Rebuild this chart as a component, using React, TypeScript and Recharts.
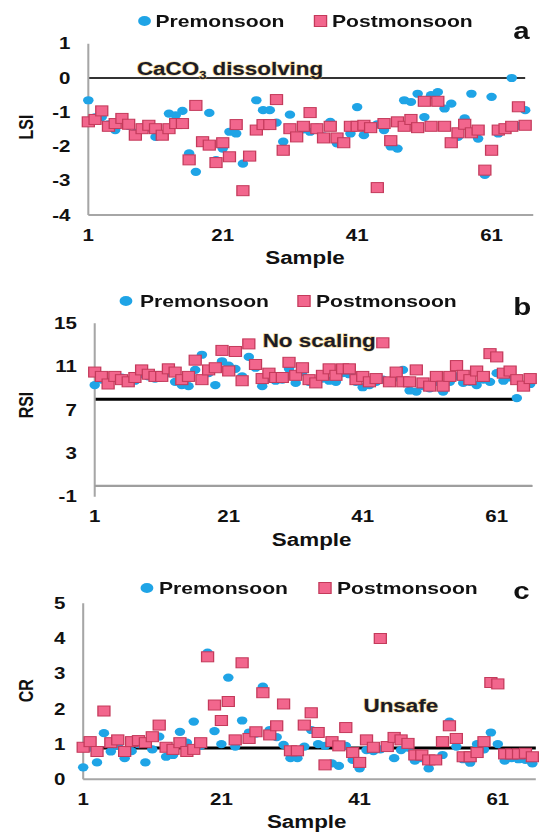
import React from 'react';
import { ScatterChart, Scatter, XAxis, YAxis, ReferenceLine, Legend } from 'recharts';

// x axis: sample number 1..66
const sampleTicks = [1, 21, 41, 61];

// (a) Langelier saturation index
const lsiTicks = [-4, -3, -2, -1, 0, 1];
const lsiPre = [
  -0.65, -1.15, -1.14, -1.35, -1.52, -1.2, -1.4, -1.6, -1.45, -1.45,
  -1.72, -1.65, -1.04, -1.09, -0.96, -2.2, -2.74, -1.85, -1.02, -2.4,
  -2.06, -1.57, -1.62, -2.5, -2.25, -0.65, -0.94, -0.94, -1.3, -1.86,
  -1.07, -1.7, -1.5, -1.57, -1.45, -1.7, -1.28, -1.91, -1.85, -1.62,
  -0.85, -1.67, -1.45, -1.35, -1.52, -2.0, -2.06, -0.65, -0.7, -0.46,
  -1.14, -0.5, -0.41, -0.89, -0.75, -1.72, -1.18, -0.46, -1.77, -2.83,
  -0.55, -1.62, -1.5, 0.0, -1.4, -0.94,
];
const lsiPost = [
  -1.28, -1.21, -0.96, -1.41, -1.33, -1.18, -1.35, -1.67, -1.48, -1.38,
  -1.48, -1.67, -1.48, -1.33, -1.33, -2.39, -0.8, -1.86, -1.96, -2.47,
  -1.89, -2.3, -1.36, -3.29, -2.28, -1.52, -1.36, -1.36, -0.63, -2.11,
  -1.48, -1.72, -1.41, -1.01, -1.48, -1.75, -1.41, -1.75, -1.89, -1.41,
  -1.41, -1.38, -1.45, -3.2, -1.33, -1.83, -1.28, -1.41, -1.21, -1.45,
  -0.68, -1.41, -0.68, -1.41, -1.89, -1.6, -1.35, -1.6, -1.52, -2.69,
  -2.11, -1.52, -1.48, -1.41, -0.84, -1.38,
];

// (b) Ryznar stability index
const rsiTicks = [-1, 3, 7, 11, 15];
const rsiPre = [
  9.3, 9.8, 9.6, 10.0, 10.0, 9.5, 9.7, 10.3, 10.1, 9.9,
  10.0, 10.4, 9.6, 9.3, 9.2, 10.7, 12.1, 10.4, 9.3, 11.5,
  11.1, 10.8, 10.1, 11.9, 10.9, 9.2, 9.9, 9.7, 9.8, 10.8,
  9.5, 10.5, 9.6, 9.4, 9.9, 9.7, 9.6, 10.4, 10.3, 9.6,
  9.1, 9.3, 9.6, 9.8, 9.5, 10.0, 10.7, 8.8, 8.7, 9.2,
  9.0, 9.6, 8.7, 9.6, 10.1, 9.5, 9.6, 9.3, 9.8, 9.6,
  10.4, 9.7, 10.0, 8.1, 9.3, 9.4,
];
const rsiPost = [
  10.5, 10.1, 9.4, 10.1, 9.8, 9.6, 10.0, 10.7, 10.3, 10.1,
  10.1, 10.8, 10.5, 9.8, 10.1, 11.6, 9.8, 10.7, 10.9, 12.5,
  10.6, 12.4, 9.7, 13.1, 11.2, 9.9, 10.4, 10.0, 10.0, 11.4,
  10.2, 10.9, 9.8, 9.5, 10.2, 10.8, 10.2, 10.8, 10.8, 9.8,
  10.1, 9.6, 9.9, 13.2, 9.6, 10.5, 9.6, 9.6, 10.7, 9.5,
  9.2, 10.1, 9.2, 10.1, 11.1, 10.2, 9.8, 10.6, 10.1, 12.2,
  11.9, 10.4, 10.6, 9.8, 9.2, 9.9,
];

// (c) corrosivity ratio
const crTicks = [0, 1, 2, 3, 4, 5];
const crPre = [
  0.34, 0.9, 0.48, 1.31, 0.79, 0.95, 0.6, 0.8, 1.0, 0.48,
  0.85, 1.21, 0.64, 0.69, 1.35, 1.04, 1.64, 0.95, 3.6, 1.37,
  1.0, 2.89, 0.93, 1.67, 1.33, 1.3, 2.63, 1.4, 1.2, 0.98,
  0.6, 0.6, 0.93, 1.4, 1.0, 0.95, 0.45, 0.38, 0.95, 0.55,
  0.31, 0.83, 0.8, 0.85, 0.93, 0.6, 0.83, 0.9, 0.53, 0.6,
  0.31, 0.53, 0.69, 1.64, 0.93, 0.57, 0.47, 1.0, 0.85, 1.33,
  1.0, 0.53, 0.6, 0.57, 0.55, 0.45,
];
const crPost = [
  0.91, 1.07, 0.79, 1.94, 1.04, 1.12, 0.79, 1.07, 1.1, 1.04,
  1.21, 1.54, 0.91, 0.85, 1.04, 0.79, 0.85, 1.04, 3.48, 2.11,
  1.67, 2.21, 1.12, 3.31, 1.16, 1.35, 2.46, 1.26, 1.52, 2.14,
  0.81, 0.81, 1.54, 1.89, 1.33, 0.41, 1.07, 0.95, 1.47, 0.76,
  0.48, 1.12, 0.91, 4.0, 0.93, 1.19, 1.12, 1.02, 0.69, 0.69,
  0.55, 0.55, 1.07, 1.52, 1.16, 0.64, 0.64, 0.76, 1.07, 2.75,
  2.71, 0.72, 0.72, 0.72, 0.74, 0.64,
];

const FONT = '"Liberation Sans", Arial, Helvetica, sans-serif';
const BLUE = '#1fa4e6';
const PINK = '#f2668d';
const PINK_EDGE = '#c43a5b';
const AXIS = '#a6a6a6';
// the original figure is stretched sideways; draw narrow, then scale in x
const STRETCH = 1.28;
const W = 424;

const bold = { fontFamily: FONT, fontWeight: 700, fill: '#111' };

const toPoints = (vals: number[]) => vals.map((y, i) => ({ x: i + 1, y }));

const Dot = (p: any) => <circle cx={p.cx} cy={p.cy} r={4.1} fill={BLUE} />;
const Box = (p: any) => (
  <rect x={p.cx - 4.7} y={p.cy - 5} width={9.4} height={10} fill={PINK} stroke={PINK_EDGE} strokeWidth={1} />
);

const XTick = (p: any) => (
  <text x={p.x} y={p.y + 20} textAnchor="middle" dominantBaseline="central" fontSize={16} style={bold}>
    {p.payload.value}
  </text>
);
const YTick = (p: any) => (
  <text x={p.x} y={p.y} textAnchor="end" dominantBaseline="central" fontSize={16} style={bold}>
    {p.payload.value}
  </text>
);

const Note = ({ x, y, children }: any) => (
  <text
    x={x}
    y={y}
    fontSize={17.5}
    style={{ fontFamily: FONT, fontWeight: 700, fill: '#1b1b28', stroke: '#e2b955', strokeWidth: 1.1, strokeOpacity: 0.75, paintOrder: 'stroke' }}
  >
    {children}
  </text>
);

interface LegendPos {
  y: number;
  dotX: number;
  preX: number;
  boxX: number;
  postX: number;
  letter: string;
  letterY: number;
}

function LegendRow({ y, dotX, preX, boxX, postX, letter, letterY }: LegendPos) {
  return (
    <svg width={W} height={60} style={{ display: 'block', overflow: 'visible' }}>
      <circle cx={dotX} cy={y} r={5} fill={BLUE} />
      <text x={preX} y={y} dominantBaseline="central" fontSize={16.5} style={bold}>Premonsoon</text>
      <rect x={boxX - 4.75} y={y - 5.5} width={9.5} height={11} fill={PINK} stroke={PINK_EDGE} strokeWidth={1} />
      <text x={postX} y={y} dominantBaseline="central" fontSize={16.5} style={bold}>Postmonsoon</text>
      <text x={401} y={letterY} fontSize={23} style={bold}>{letter}</text>
    </svg>
  );
}

interface PanelProps {
  top: number;
  height: number;
  plotTop: number;
  plotBottom: number;
  axisW: number;
  rightPad: number;
  xMax: number;
  yDomain: [number, number];
  yTicks: number[];
  yTitle: string;
  yTitleY: number;
  pre: number[];
  post: number[];
  legend: LegendPos;
  sampleX: number;
  sampleY: number;
  xLine: boolean;
  lines: React.ReactNode;
  crossAt?: number; // value where a grey horizontal axis crosses (panel b)
}

function Panel(props: PanelProps) {
  const { top, height, plotTop, plotBottom, axisW, rightPad, xMax, yDomain, yTicks, yTitle, yTitleY, pre, post, legend, sampleX, sampleY, xLine, lines, crossAt } = props;
  const [lo, hi] = yDomain;
  const crossY = crossAt === undefined ? undefined : plotTop + ((hi - crossAt) / (hi - lo)) * (plotBottom - plotTop);
  return (
    <div style={{ position: 'absolute', left: 0, top, width: W, height }}>
      <ScatterChart width={W} height={height} margin={{ top: plotTop, right: rightPad, bottom: 0, left: 0 }}>
        <XAxis
          type="number"
          dataKey="x"
          domain={[1, xMax]}
          ticks={sampleTicks}
          interval={0}
          height={height - plotBottom}
          tickLine={false}
          tickSize={0}
          tickMargin={0}
          axisLine={xLine ? { stroke: AXIS, strokeWidth: 2 } : false}
          tick={XTick}
          label={{
            content: () => (
              <text x={sampleX} y={sampleY} textAnchor="middle" dominantBaseline="central" fontSize={17.5} style={bold}>
                Sample
              </text>
            ),
          }}
        />
        <YAxis
          type="number"
          dataKey="y"
          domain={yDomain}
          ticks={yTicks}
          interval={0}
          width={axisW}
          tickLine={false}
          tickSize={0}
          tickMargin={14}
          axisLine={{ stroke: AXIS, strokeWidth: 1.6 }}
          tick={YTick}
          label={{
            content: () => (
              <text
                x={20.5}
                y={yTitleY}
                transform={`rotate(-90 20.5 ${yTitleY})`}
                textAnchor="middle"
                dominantBaseline="central"
                fontSize={16}
                style={bold}
              >
                {yTitle}
              </text>
            ),
          }}
        />
        <Legend
          verticalAlign="middle"
          align="center"
          layout="horizontal"
          wrapperStyle={{ top: 0, left: 0, width: W, height: 60, margin: 0, padding: 0 }}
          content={() => <LegendRow {...legend} />}
        />
        {lines}
        <Scatter name="Premonsoon" data={toPoints(pre)} shape={Dot} isAnimationActive={false} />
        <Scatter name="Postmonsoon" data={toPoints(post)} shape={Box} isAnimationActive={false} />
        {crossAt !== undefined && (
          <ReferenceLine
            y={crossAt}
            stroke="#999"
            strokeWidth={2}
            ifOverflow="visible"
            label={{ content: () => <text x={0} y={0} /> }}
          />
        )}
      </ScatterChart>
      {crossY !== undefined && (
        <div
          style={{
            position: 'absolute',
            left: axisW,
            top: crossY - 1,
            width: W - rightPad - axisW,
            height: 2,
            background: '#9e9e9e',
            pointerEvents: 'none',
          }}
        />
      )}
    </div>
  );
}

export default function App() {
  return (
    <div
      style={{
        position: 'absolute',
        left: 0,
        top: 0,
        width: W,
        height: 833,
        background: '#fff',
        transform: `scaleX(${STRETCH})`,
        transformOrigin: '0 0',
      }}
    >
      <Panel
        top={0}
        height={280}
        plotTop={43.75}
        plotBottom={215}
        axisW={69}
        rightPad={7.4}
        xMax={67.2}
        yDomain={[-4, 1]}
        yTicks={lsiTicks}
        yTitle="LSI"
        yTitleY={127}
        pre={lsiPre}
        post={lsiPost}
        legend={{ y: 21, dotX: 112.9, preX: 121.5, boxX: 250.4, postX: 259.4, letter: 'a', letterY: 39 }}
        sampleX={238.3}
        sampleY={258}
        xLine
        lines={
          <ReferenceLine
            segment={[{ x: 1, y: 0 }, { x: 66, y: 0 }]}
            stroke="#333"
            strokeWidth={1.8}
            label={{
              content: () => (
                <Note x={107} y={75}>
                  CaCO<tspan fontSize={10} dy={4}>3</tspan>
                  <tspan dy={-4}> dissolving</tspan>
                </Note>
              ),
            }}
          />
        }
      />
      <Panel
        top={280}
        height={270}
        plotTop={43.3}
        plotBottom={216.7}
        axisW={74}
        rightPad={8.2}
        xMax={66.3}
        yDomain={[-1, 15]}
        yTicks={rsiTicks}
        yTitle="RSI"
        yTitleY={125}
        pre={rsiPre}
        post={rsiPost}
        legend={{ y: 21, dotX: 98.4, preX: 109.4, boxX: 237.5, postX: 246.9, letter: 'b', letterY: 35 }}
        sampleX={243.5}
        sampleY={260}
        xLine={false}
        crossAt={0}
        lines={
          <ReferenceLine
            segment={[{ x: 1, y: 8 }, { x: 64.2, y: 8 }]}
            stroke="#000"
            strokeWidth={3}
            label={{ content: () => <Note x={205.2} y={66.7}>No scaling</Note> }}
          />
        }
      />
      <Panel
        top={550}
        height={283}
        plotTop={53.3}
        plotBottom={229.3}
        axisW={65}
        rightPad={5.4}
        xMax={66.5}
        yDomain={[0, 5]}
        yTicks={crTicks}
        yTitle="CR"
        yTitleY={140.8}
        pre={crPre}
        post={crPost}
        legend={{ y: 38, dotX: 114.8, preX: 124.2, boxX: 253.9, postX: 263.3, letter: 'c', letterY: 49 }}
        sampleX={239.6}
        sampleY={271.7}
        xLine
        lines={
          <ReferenceLine
            y={0.89}
            stroke="#000"
            strokeWidth={3}
            label={{ content: () => <Note x={284} y={162.5}>Unsafe</Note> }}
          />
        }
      />
    </div>
  );
}
